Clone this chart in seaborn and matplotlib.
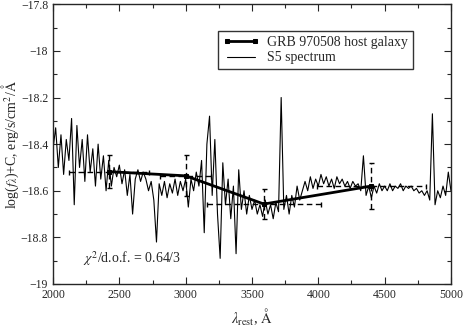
#!/usr/bin/env python3
"""
GRB 970508 host galaxy photometry vs. S5 template spectrum
"""

import numpy as np
import pandas as pd
import matplotlib
matplotlib.use("Agg")
import matplotlib.pyplot as plt
from matplotlib.ticker import MultipleLocator
import seaborn as sns

# --- data ---
# S5 spectrum, sampled every 20 A from 2000 to 5000 A
spec_wave = np.arange(2000, 5001, 20)
spec_flux = [
    -18.42, -18.33, -18.50, -18.36, -18.53, -18.38, -18.47, -18.29, -18.66, -18.32,
    -18.50, -18.38, -18.56, -18.36, -18.52, -18.42, -18.58, -18.40, -18.55, -18.45,
    -18.60, -18.47, -18.58, -18.50, -18.54, -18.49, -18.57, -18.51, -18.62, -18.53,
    -18.70, -18.55, -18.51, -18.56, -18.52, -18.55, -18.60, -18.56, -18.64, -18.82,
    -18.57, -18.62, -18.56, -18.63, -18.57, -18.61, -18.55, -18.62, -18.56, -18.60,
    -18.55, -18.67, -18.55, -18.60, -18.52, -18.58, -18.47, -18.78, -18.40, -18.28,
    -18.62, -18.38, -18.70, -18.89, -18.48, -18.66, -18.55, -18.72, -18.58, -18.87,
    -18.51, -18.68, -18.60, -18.70, -18.62, -18.68, -18.64, -18.70, -18.66, -18.71,
    -18.64, -18.70, -18.66, -18.72, -18.65, -18.69, -18.20, -18.68, -18.62, -18.70,
    -18.62, -18.67, -18.58, -18.64, -18.60, -18.56, -18.60, -18.54, -18.59, -18.55,
    -18.58, -18.53, -18.57, -18.54, -18.58, -18.55, -18.59, -18.54, -18.57, -18.55,
    -18.58, -18.56, -18.59, -18.56, -18.58, -18.57, -18.60, -18.45, -18.62, -18.58,
    -18.63, -18.58, -18.61, -18.57, -18.60, -18.58, -18.60, -18.57, -18.60, -18.58,
    -18.59, -18.57, -18.60, -18.58, -18.59, -18.58, -18.60, -18.59, -18.61, -18.60,
    -18.62, -18.60, -18.64, -18.27, -18.66, -18.60, -18.63, -18.58, -18.62, -18.52,
    -18.60,
]

# host galaxy photometric points
host_wave = [2420, 3000, 3590, 4400]
host_flux = [-18.518, -18.536, -18.657, -18.580]
host_xerr = [300, 190, 430, 410]
host_yerr = [0.072, 0.088, 0.065, 0.098]

y_ticks = [-19.0, -18.8, -18.6, -18.4, -18.2, -18.0, -17.8]
y_ticklabels = ["\u221219", "\u221218.8", "\u221218.6", "\u221218.4",
                "\u221218.2", "\u221218", "\u221217.8"]

chi_text = r"$\chi^2$/d.o.f. = 0.64/3"

spec = pd.DataFrame({"wave": spec_wave, "flux": spec_flux})
host = pd.DataFrame({"wave": host_wave, "flux": host_flux})

sns.set_style("ticks")
plt.rcParams["font.family"] = ["Liberation Serif", "DejaVu Serif"]
plt.rcParams["mathtext.fontset"] = "stix"

fig = plt.figure(figsize=(4.63, 3.27), dpi=100)
ax = fig.add_axes([0.1145, 0.1315, 0.8595, 0.8555])

# spectrum
sns.lineplot(data=spec, x="wave", y="flux", ax=ax, color="black",
             linewidth=0.8, label="S5 spectrum", zorder=2)

# error bars (dashed)
eb = ax.errorbar(host_wave, host_flux, xerr=host_xerr, yerr=host_yerr,
                 fmt="none", ecolor="black", elinewidth=1.0, capsize=1.8,
                 capthick=1.0, zorder=3)
for lc in eb[2]:
    lc.set_linestyle((0, (4, 2.5)))

# host galaxy
sns.lineplot(data=host, x="wave", y="flux", ax=ax, color="black",
             linewidth=2.0, marker="s", markersize=3.5, markeredgecolor="black",
             label="GRB 970508 host galaxy", zorder=4)

ax.set_xlim(2000, 5000)
ax.set_ylim(-19, -17.8)
ax.xaxis.set_major_locator(MultipleLocator(500))
ax.xaxis.set_minor_locator(MultipleLocator(250))
ax.set_yticks(y_ticks)
ax.set_yticklabels(y_ticklabels)
ax.yaxis.set_minor_locator(MultipleLocator(0.1))
ax.tick_params(which="both", direction="in", top=True, right=True,
               labelsize=8.5, width=0.8)
ax.tick_params(which="major", length=5)
ax.tick_params(which="minor", length=3)
for s in ax.spines.values():
    s.set_linewidth(1.0)

ax.set_xlabel(r"$\lambda_{\mathrm{rest}}$, $\mathrm{\AA}$", fontsize=10.5, labelpad=4)
ax.set_ylabel(r"log($f_\lambda$)+C, erg/s/cm$^2$/$\mathrm{\AA}$", fontsize=10, labelpad=0)

ax.text(2227, -18.889, chi_text, fontsize=10, va="center", ha="left")

handles, labels = ax.get_legend_handles_labels()
order = [labels.index("GRB 970508 host galaxy"), labels.index("S5 spectrum")]
leg = ax.legend([handles[i] for i in order], [labels[i] for i in order],
                loc="upper left", bbox_to_anchor=(0.397, 0.93), fontsize=10,
                frameon=True, fancybox=False, edgecolor="black",
                handlelength=2.6, borderpad=0.35, labelspacing=0.2,
                handletextpad=0.6, numpoints=2)
leg.get_frame().set_linewidth(1.0)

fig.savefig("out.png", dpi=100)
